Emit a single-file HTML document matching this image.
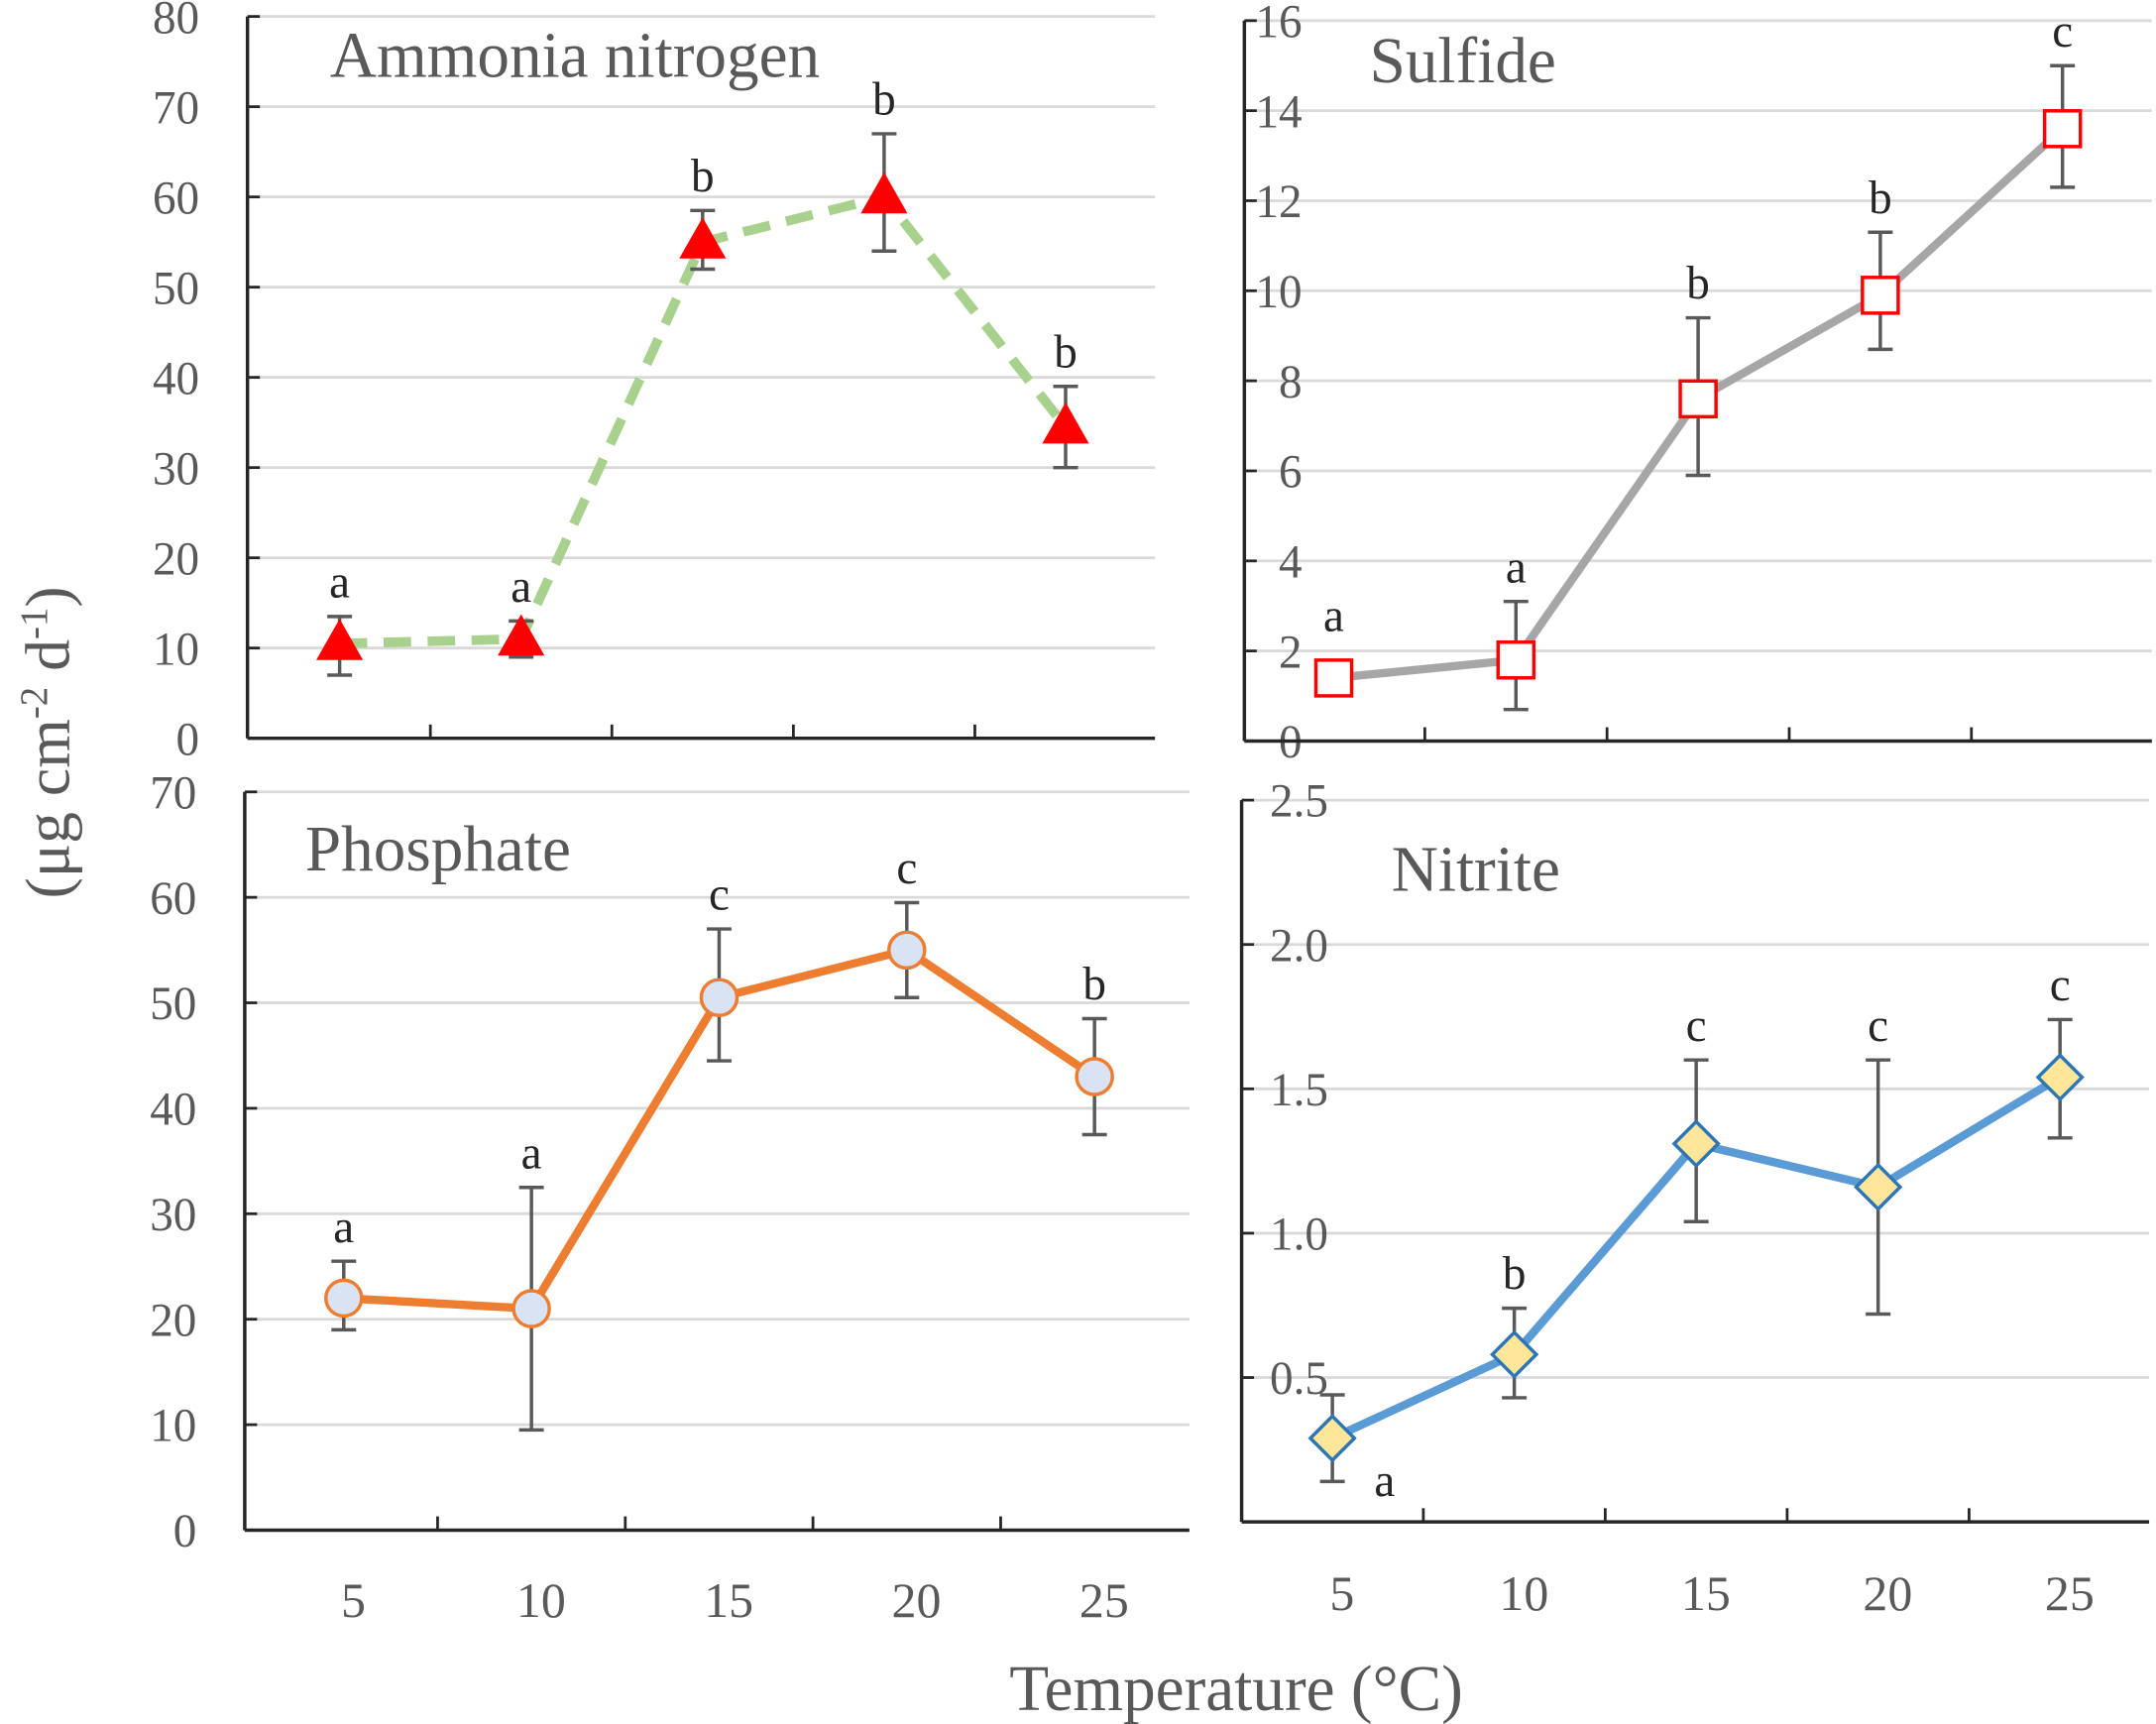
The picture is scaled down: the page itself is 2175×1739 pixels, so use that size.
<!DOCTYPE html>
<html><head><meta charset="utf-8"><style>html,body{margin:0;padding:0;background:#fff}svg{display:block}</style></head>
<body>
<svg id="c" width="2175" height="1739" viewBox="0 0 1568 1254" preserveAspectRatio="none" xmlns="http://www.w3.org/2000/svg" font-family="'Liberation Serif', serif"></svg>
<script>
const cats=['5','10','15','20','25'];
const ammVals=[10.5,11,55,60,34.5];
const ammLo=[7,9,52,54,30];
const ammHi=[13.5,13,58.5,67,39];
const ammSig=['a','a','b','b','b'];
const sulVals=[1.4,1.8,7.6,9.9,13.6];
const sulLo=[1.4,0.7,5.9,8.7,12.3];
const sulHi=[1.4,3.1,9.4,11.3,15.0];
const sulSig=['a','a','b','b','c'];
const phoVals=[22,21,50.5,55,43];
const phoLo=[19,9.5,44.5,50.5,37.5];
const phoHi=[25.5,32.5,57,59.5,48.5];
const phoSig=['a','a','c','c','b'];
const nitVals=[0.29,0.58,1.31,1.16,1.54];
const nitLo=[0.14,0.43,1.04,0.72,1.33];
const nitHi=[0.44,0.74,1.6,1.6,1.74];
const nitSig=['a','b','c','c','c'];
const ammTicks=[0,10,20,30,40,50,60,70,80];
const sulTicks=[0,2,4,6,8,10,12,14,16];
const phoTicks=[0,10,20,30,40,50,60,70];
const nitTicks=['0.5','1.0','1.5','2.0','2.5'];

const svg=document.getElementById('c');
const NS='http://www.w3.org/2000/svg';
function el(t,a,txt){const e=document.createElementNS(NS,t);for(const k in a)e.setAttribute(k,a[k]);if(txt!==undefined)e.textContent=txt;svg.appendChild(e);return e;}

const panels=[
 {key:'ammonia',x0:180,x1:840,y0:537,y1:12,max:80,ticks:ammTicks,cx0:247,step:132,vals:ammVals,lo:ammLo,hi:ammHi,sig:ammSig,title:'Ammonia nitrogen',tx:240,ty:56,line:'#a9d18e',dash:'20 12',marker:'tri',showX:false,tickLabX:145,tickAnchor:'end'},
 {key:'sulfide',x0:905,x1:1565,y0:539,y1:15,max:16,ticks:sulTicks,cx0:970,step:132.5,vals:sulVals,lo:sulLo,hi:sulHi,sig:sulSig,title:'Sulfide',tx:996,ty:60,line:'#a6a6a6',dash:null,marker:'sq',showX:false,tickLabX:947,tickAnchor:'end'},
 {key:'phosphate',x0:178,x1:865,y0:1113,y1:576,max:70,ticks:phoTicks,cx0:250,step:136.5,vals:phoVals,lo:phoLo,hi:phoHi,sig:phoSig,title:'Phosphate',tx:222,ty:633,line:'#ed7d31',dash:null,marker:'circ',showX:true,tickLabX:143,tickAnchor:'end',xlabY:1176},
 {key:'nitrite',x0:903,x1:1563,y0:1107,y1:582,max:2.5,ticks:nitTicks,cx0:969,step:132.3,vals:nitVals,lo:nitLo,hi:nitHi,sig:nitSig,title:'Nitrite',tx:1012,ty:648,line:'#5b9bd5',dash:null,marker:'dia',showX:true,tickLabX:966,tickAnchor:'end',xlabY:1171},
];
panels.forEach(p=>{
 const Y=v=>p.y0-(v/p.max)*(p.y0-p.y1);
 const X=i=>p.cx0+i*p.step;
 p.ticks.forEach(t=>{const v=parseFloat(t);const y=Y(v);
  if(v>0){const g=el('line',{x1:p.x0,x2:p.x1,y1:y,y2:y,stroke:'#d9d9d9','stroke-width':2});}
  const l=el('text',{x:p.tickLabX,y:y+12,'font-size':34,fill:'#595959','text-anchor':p.tickAnchor},String(t));
  
  const tk=el('line',{x1:p.x0,x2:p.x0+9,y1:y,y2:y,stroke:'#262626','stroke-width':2});
 });
 const ya=el('line',{x1:p.x0,x2:p.x0,y1:p.y1,y2:p.y0,stroke:'#262626','stroke-width':2.5});
 const xa=el('line',{x1:p.x0,x2:p.x1,y1:p.y0,y2:p.y0,stroke:'#262626','stroke-width':2.5});
 for(let i=0;i<cats.length-1;i++){const x=X(i)+p.step/2;const t=el('line',{x1:x,x2:x,y1:p.y0,y2:p.y0-10,stroke:'#262626','stroke-width':2});}
 if(p.showX)cats.forEach((c,i)=>{const t=el('text',{x:X(i)+7,y:p.xlabY,'font-size':36,fill:'#595959','text-anchor':'middle'},c);});
 const tt=el('text',{x:p.tx,y:p.ty,'font-size':47,fill:'#595959'},p.title);
 const pts=p.vals.map((v,i)=>X(i)+','+Y(v)).join(' ');
 const a={points:pts,fill:'none',stroke:p.line,'stroke-width':p.dash?7:6,'stroke-linejoin':'round'};if(p.dash)a['stroke-dasharray']=p.dash;
 const pl=el('polyline',a);
 p.vals.forEach((v,i)=>{const x=X(i);
  if(p.hi[i]!==p.lo[i]){
  const e=el('path',{d:`M${x},${Y(p.lo[i])}V${Y(p.hi[i])}M${x-9},${Y(p.lo[i])}H${x+9}M${x-9},${Y(p.hi[i])}H${x+9}`,stroke:'#595959','stroke-width':2.5,fill:'none'});
  }
 });
 p.vals.forEach((v,i)=>{const x=X(i),y=Y(v);let m;
  if(p.marker==='tri')m=el('polygon',{points:`${x},${y-18} ${x-17},${y+12} ${x+17},${y+12}`,fill:'#ff0000'});
  if(p.marker==='sq')m=el('rect',{x:x-13,y:y-13,width:26,height:26,fill:'#fff',stroke:'#ff0000','stroke-width':2.5});
  if(p.marker==='circ')m=el('circle',{cx:x,cy:y,r:13,fill:'#dae3f3',stroke:'#ed7d31','stroke-width':2.5});
  if(p.marker==='dia')m=el('polygon',{points:`${x},${y-16} ${x+16},${y} ${x},${y+16} ${x-16},${y}`,fill:'#ffe699',stroke:'#2e75b6','stroke-width':2.5});
  
  let lx=x,ly=Y(p.hi[i])-14;
  if(p.key==='sulfide'&&i===0)ly=y-34;
  if(p.key==='nitrite'&&i===0){lx=x+38;ly=y+42;}
  const s=el('text',{x:lx,y:ly,'font-size':34,fill:'#262626','text-anchor':'middle'},p.sig[i]);
  
 });
});
const yt=el('text',{transform:'translate(50,540) rotate(-90)','font-size':46,fill:'#595959','text-anchor':'middle'});
yt.innerHTML='(μg cm<tspan dy="-16" font-size="28">-2</tspan><tspan dy="16"> d</tspan><tspan dy="-16" font-size="28">-1</tspan><tspan dy="16">)</tspan>';

const xt=el('text',{x:899,y:1244,'font-size':47,fill:'#595959','text-anchor':'middle'},'Temperature (°C)');

</script>
</body></html>
